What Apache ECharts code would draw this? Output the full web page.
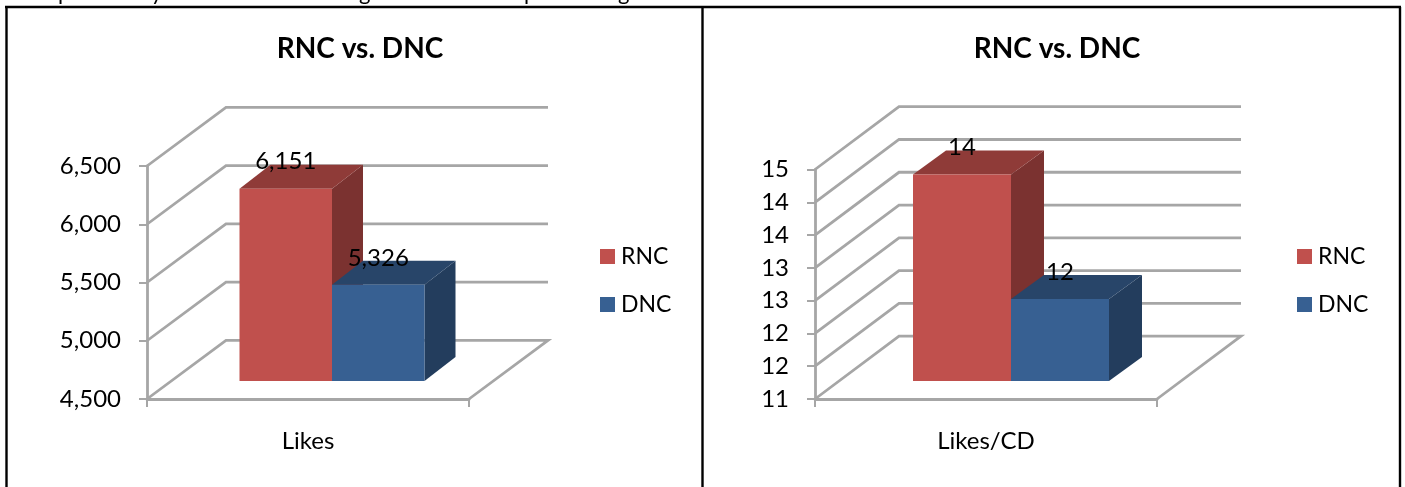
<!DOCTYPE html>
<html>
<head>
<meta charset="utf-8">
<style>html,body{margin:0;padding:0;background:#fff}#c{width:1405px;height:487px}</style>
<script src="https://cdn.jsdelivr.net/npm/echarts@6/dist/echarts.min.js"></script>
</head>
<body>
<div id="c"></div>
<script>
// ---- data ----
var seriesNames = ['RNC', 'DNC'];
var likesCategories = ['Likes'];
var likesRNC = [6151];
var likesDNC = [5326];
var likesTicks = [4500, 5000, 5500, 6000, 6500];
var perCdCategories = ['Likes/CD'];
var perCdRNC = [14.15];
var perCdDNC = [12.25];
var perCdTicks = [11, 11.5, 12, 12.5, 13, 13.5, 14, 14.5];
// bits of the cut-off sentence above the charts: only the descenders are on the page
var clippedGlyphs = ['p', 'y', 'g', 'p', 'g'];
var clippedGlyphX = [58, 151, 359, 524, 618];

// ---- styles ----
var FONT = 'Lato';
var GRID_COLOR = '#a6a6a6';
var FACE = {
  RNC: { front: '#c0504d', top: '#8f3b38', side: '#7b3230' },
  DNC: { front: '#376092', top: '#284569', side: '#233d5d' }
};
var panels = [
  { left: 147, width: 322, top: 166, height: 233, wallDx: 79, wallDy: 58.6,
    barRatio: 92.5 / 322, frontDx: 24, frontDy: 18, depthDx: 31, depthDy: 24,
    titleX: 360, legendX: 600,
    categories: likesCategories, rnc: likesRNC, dnc: likesDNC, ticks: likesTicks,
    fmtTick: function (v) { return v.toLocaleString('en-US'); },
    fmtLabel: function (v) { return v.toLocaleString('en-US'); } },
  { left: 815, width: 342, top: 169.5, height: 229.5, wallDx: 84, wallDy: 62.8,
    barRatio: 98 / 342, frontDx: 25, frontDy: 18, depthDx: 33, depthDy: 24,
    titleX: 1057, legendX: 1297,
    categories: perCdCategories, rnc: perCdRNC, dnc: perCdDNC, ticks: perCdTicks,
    fmtTick: function (v) { return v.toFixed(0); },
    fmtLabel: function (v) { return v.toFixed(0); } }
];

function wallRenderer(p) {
  return function (params, api) {
    var v = api.value(1);
    var c = api.coord([api.value(0), v]);
    var band = api.size([1, 0])[0];
    var x0 = c[0] - band / 2, y = c[1];
    var pts = [[x0, y], [x0 + p.wallDx, y - p.wallDy], [x0 + band + p.wallDx, y - p.wallDy]];
    if (params.dataIndex === 0) pts.push([x0 + band, y]);
    return {
      type: 'polyline', silent: true,
      shape: { points: pts },
      style: { stroke: GRID_COLOR, lineWidth: 2.8, fill: null }
    };
  };
}

function barRenderer(p, name, order) {
  var face = FACE[name];
  return function (params, api) {
    var v = api.value(1);
    var base = api.coord([api.value(0), p.ticks[0]]);
    var topPt = api.coord([api.value(0), v]);
    var band = api.size([1, 0])[0];
    var w = band * p.barRatio;
    var x = base[0] + p.frontDx + (order === 0 ? -w : 0);
    var yb = base[1] - p.frontDy;
    var yt = topPt[1] - p.frontDy;
    var dx = p.depthDx, dy = p.depthDy;
    return {
      type: 'group',
      children: [
        { type: 'polygon', silent: true,
          shape: { points: [[x + w, yt], [x + w + dx, yt - dy], [x + w + dx, yb - dy], [x + w, yb]] },
          style: { fill: face.side } },
        { type: 'polygon', silent: true,
          shape: { points: [[x, yt], [x + dx, yt - dy], [x + w + dx, yt - dy], [x + w, yt]] },
          style: { fill: face.top } },
        { type: 'rect', silent: true,
          shape: { x: x, y: yt, width: w, height: yb - yt },
          style: { fill: face.front } },
        { type: 'text', silent: true, z2: 100,
          style: {
            text: p.fmtLabel(api.value(2)),
            x: x + w / 2, y: yt - 27,
            align: 'center', verticalAlign: 'middle',
            fill: '#000', font: '24px ' + FONT
          } }
      ]
    };
  };
}

var option = {
  animation: false,
  backgroundColor: '#fff',
  textStyle: { fontFamily: FONT },
  title: [], legend: [], grid: [], xAxis: [], yAxis: [], series: [],
  graphic: [
    { type: 'line', shape: { x1: 5, y1: 7, x2: 1401, y2: 7 }, style: { stroke: '#000', lineWidth: 2.4 } },
    { type: 'line', shape: { x1: 6.5, y1: 7, x2: 6.5, y2: 487 }, style: { stroke: '#000', lineWidth: 2.4 } },
    { type: 'line', shape: { x1: 702.5, y1: 7, x2: 702.5, y2: 487 }, style: { stroke: '#000', lineWidth: 2.4 } },
    { type: 'line', shape: { x1: 1400, y1: 7, x2: 1400, y2: 487 }, style: { stroke: '#000', lineWidth: 2.4 } }
  ].concat(clippedGlyphs.map(function (g, i) {
    return { type: 'text', left: clippedGlyphX[i], top: -18,
      style: { text: g, font: '22px ' + FONT, fill: '#000' } };
  }))
};

panels.forEach(function (p, i) {
  option.title.push({
    text: 'RNC vs. DNC', left: p.titleX, top: 35, padding: 0, textAlign: 'center',
    textStyle: { fontFamily: FONT, fontWeight: 'bold', fontSize: 28, color: '#000' }
  });
  option.legend.push({
    orient: 'vertical', left: p.legendX, top: 245, padding: 0,
    data: seriesNames, icon: 'rect', itemWidth: 15, itemHeight: 15, itemGap: 25,
    selectedMode: false,
    textStyle: { fontFamily: FONT, fontSize: 23, color: '#000', padding: [0, 0, 0, 1] }
  });
  option.grid.push({ left: p.left, width: p.width, top: p.top, height: p.height, containLabel: false });
  option.xAxis.push({
    type: 'category', gridIndex: i, data: p.categories,
    axisLine: { lineStyle: { color: GRID_COLOR, width: 2.8 } },
    axisTick: { show: true, length: 8, lineStyle: { color: GRID_COLOR, width: 2 } },
    axisLabel: { color: '#000', fontFamily: FONT, fontSize: 24, margin: 30 }
  });
  option.yAxis.push({
    type: 'value', gridIndex: i,
    min: p.ticks[0], max: p.ticks[p.ticks.length - 1], interval: p.ticks[1] - p.ticks[0],
    splitLine: { show: false },
    axisLine: { show: true, lineStyle: { color: GRID_COLOR, width: 2.8 } },
    axisTick: { show: true, length: 8, lineStyle: { color: GRID_COLOR, width: 2 } },
    axisLabel: { color: '#000', fontFamily: FONT, fontSize: 24, margin: 26, padding: [4, 0, 0, 0], formatter: p.fmtTick }
  });
  option.series.push({
    type: 'custom', name: 'walls' + i, xAxisIndex: i, yAxisIndex: i, clip: false, z: 1,
    renderItem: wallRenderer(p), encode: { x: 0, y: 1 },
    data: p.ticks.map(function (t) { return [p.categories[0], t]; })
  });
  [p.rnc, p.dnc].forEach(function (vals, k) {
    var name = seriesNames[k];
    option.series.push({
      type: 'custom', name: name, xAxisIndex: i, yAxisIndex: i, clip: false, z: 3 + k,
      itemStyle: { color: FACE[name].front },
      renderItem: barRenderer(p, name, k), encode: { x: 0, y: 1 },
      data: vals.map(function (v, j) { return [p.categories[j], v, v]; })
    });
  });
});

var chart = echarts.init(document.getElementById('c'), null, { renderer: 'canvas' });
chart.setOption(option);
</script>
</body>
</html>
